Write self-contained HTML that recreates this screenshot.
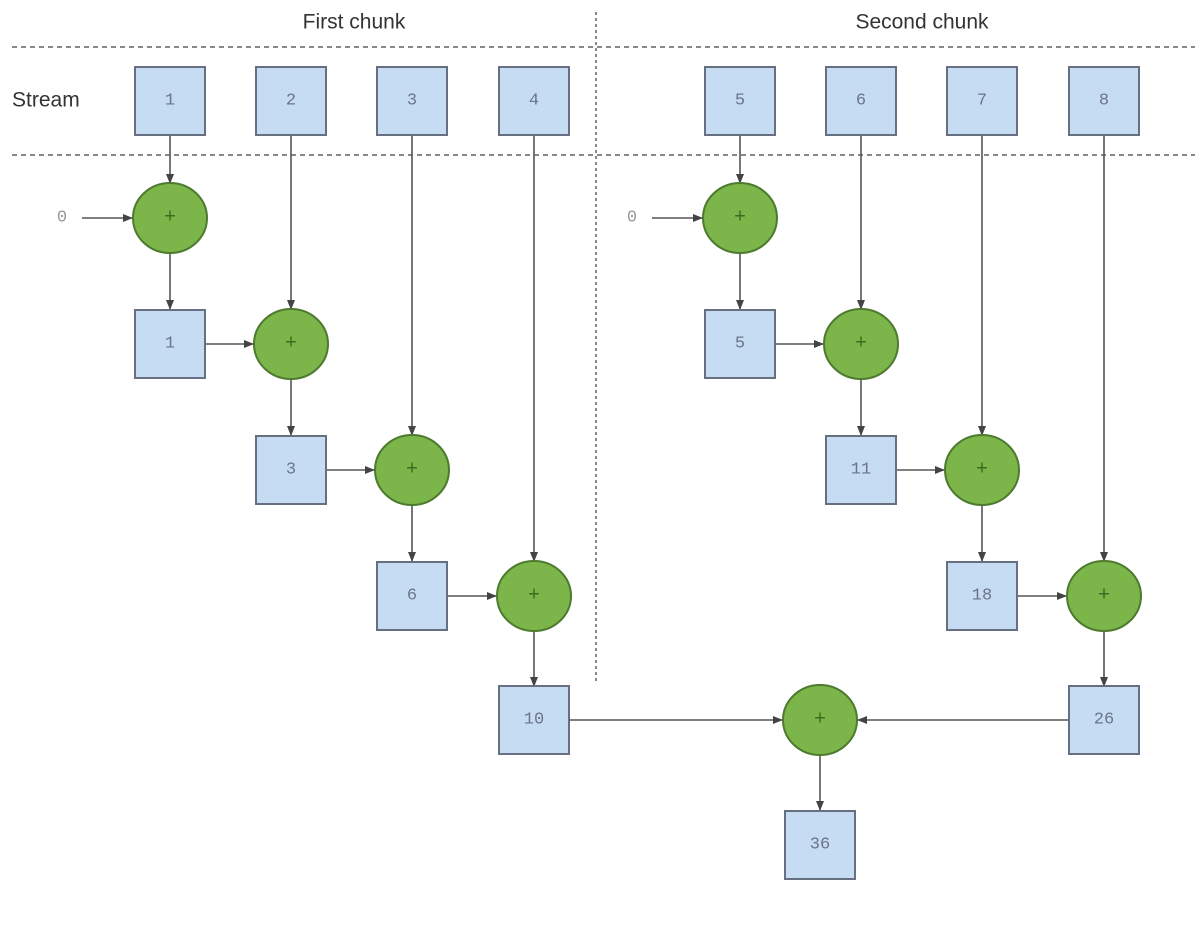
<!DOCTYPE html>
<html><head><meta charset="utf-8"><style>
html,body{margin:0;padding:0;background:#fff;width:1200px;height:928px;overflow:hidden}
svg text{font-family:"Liberation Mono",monospace;font-size:17px;fill:#6a7588;text-anchor:middle;dominant-baseline:central}
svg text.s{font-family:"Liberation Sans",sans-serif;fill:#333;font-size:21px}
svg text.p{font-size:20px;fill:#3d6b20}
</style></head><body>
<svg width="1200" height="928" viewBox="0 0 1200 928">
<defs><marker id="a" markerWidth="10" markerHeight="8" refX="9" refY="4" orient="auto" markerUnits="userSpaceOnUse"><path d="M0,0 L10,4 L0,8 z" fill="#444"/></marker></defs>
<g stroke="#888" stroke-width="2" stroke-dasharray="5,4" fill="none">
<line x1="12" y1="47" x2="1195" y2="47"/><line x1="12" y1="155" x2="1195" y2="155"/>
<line x1="596" y1="12" x2="596" y2="683" stroke-dasharray="3,3"/>
</g>
<text class="s" x="354" y="22">First chunk</text>
<text class="s" x="922" y="22">Second chunk</text>
<text class="s" x="12" y="100" style="text-anchor:start">Stream</text>
<g stroke="#555" stroke-width="1.6" fill="none" marker-end="url(#a)">
<line x1="170" y1="135" x2="170" y2="183"/>
<line x1="82" y1="218" x2="132" y2="218"/>
<line x1="170" y1="253" x2="170" y2="309"/>
<line x1="291" y1="135" x2="291" y2="309"/>
<line x1="205" y1="344" x2="253" y2="344"/>
<line x1="291" y1="379" x2="291" y2="435"/>
<line x1="412" y1="135" x2="412" y2="435"/>
<line x1="326" y1="470" x2="374" y2="470"/>
<line x1="412" y1="505" x2="412" y2="561"/>
<line x1="534" y1="135" x2="534" y2="561"/>
<line x1="447" y1="596" x2="496" y2="596"/>
<line x1="534" y1="631" x2="534" y2="686"/>
<line x1="740" y1="135" x2="740" y2="183"/>
<line x1="652" y1="218" x2="702" y2="218"/>
<line x1="740" y1="253" x2="740" y2="309"/>
<line x1="861" y1="135" x2="861" y2="309"/>
<line x1="775" y1="344" x2="823" y2="344"/>
<line x1="861" y1="379" x2="861" y2="435"/>
<line x1="982" y1="135" x2="982" y2="435"/>
<line x1="896" y1="470" x2="944" y2="470"/>
<line x1="982" y1="505" x2="982" y2="561"/>
<line x1="1104" y1="135" x2="1104" y2="561"/>
<line x1="1017" y1="596" x2="1066" y2="596"/>
<line x1="1104" y1="631" x2="1104" y2="686"/>
<line x1="569" y1="720" x2="782" y2="720"/>
<line x1="1069" y1="720" x2="858" y2="720"/>
<line x1="820" y1="755" x2="820" y2="810"/>
</g>
<text x="62" y="218" style="fill:#999">0</text>
<text x="632" y="218" style="fill:#999">0</text>
<g fill="#c6dcf2" stroke="#667080" stroke-width="2">
<rect x="135" y="67" width="70" height="68"/><rect x="256" y="67" width="70" height="68"/>
<rect x="377" y="67" width="70" height="68"/><rect x="499" y="67" width="70" height="68"/>
<rect x="705" y="67" width="70" height="68"/><rect x="826" y="67" width="70" height="68"/>
<rect x="947" y="67" width="70" height="68"/><rect x="1069" y="67" width="70" height="68"/>
<rect x="135" y="310" width="70" height="68"/><rect x="256" y="436" width="70" height="68"/>
<rect x="377" y="562" width="70" height="68"/><rect x="499" y="686" width="70" height="68"/>
<rect x="705" y="310" width="70" height="68"/><rect x="826" y="436" width="70" height="68"/>
<rect x="947" y="562" width="70" height="68"/><rect x="1069" y="686" width="70" height="68"/>
<rect x="785" y="811" width="70" height="68"/>
</g>
<g fill="#7cb54a" stroke="#4d7a2e" stroke-width="2">
<ellipse cx="170" cy="218" rx="37" ry="35"/><ellipse cx="291" cy="344" rx="37" ry="35"/>
<ellipse cx="412" cy="470" rx="37" ry="35"/><ellipse cx="534" cy="596" rx="37" ry="35"/>
<ellipse cx="740" cy="218" rx="37" ry="35"/><ellipse cx="861" cy="344" rx="37" ry="35"/>
<ellipse cx="982" cy="470" rx="37" ry="35"/><ellipse cx="1104" cy="596" rx="37" ry="35"/>
<ellipse cx="820" cy="720" rx="37" ry="35"/>
</g>
<text class="p" x="170" y="218">+</text><text class="p" x="291" y="344">+</text>
<text class="p" x="412" y="470">+</text><text class="p" x="534" y="596">+</text>
<text class="p" x="740" y="218">+</text><text class="p" x="861" y="344">+</text>
<text class="p" x="982" y="470">+</text><text class="p" x="1104" y="596">+</text>
<text class="p" x="820" y="720">+</text>
<text x="170" y="101">1</text><text x="291" y="101">2</text><text x="412" y="101">3</text><text x="534" y="101">4</text>
<text x="740" y="101">5</text><text x="861" y="101">6</text><text x="982" y="101">7</text><text x="1104" y="101">8</text>
<text x="170" y="344">1</text><text x="291" y="470">3</text><text x="412" y="596">6</text><text x="534" y="720">10</text>
<text x="740" y="344">5</text><text x="861" y="470">11</text><text x="982" y="596">18</text><text x="1104" y="720">26</text>
<text x="820" y="845">36</text>
</svg>
</body></html>
